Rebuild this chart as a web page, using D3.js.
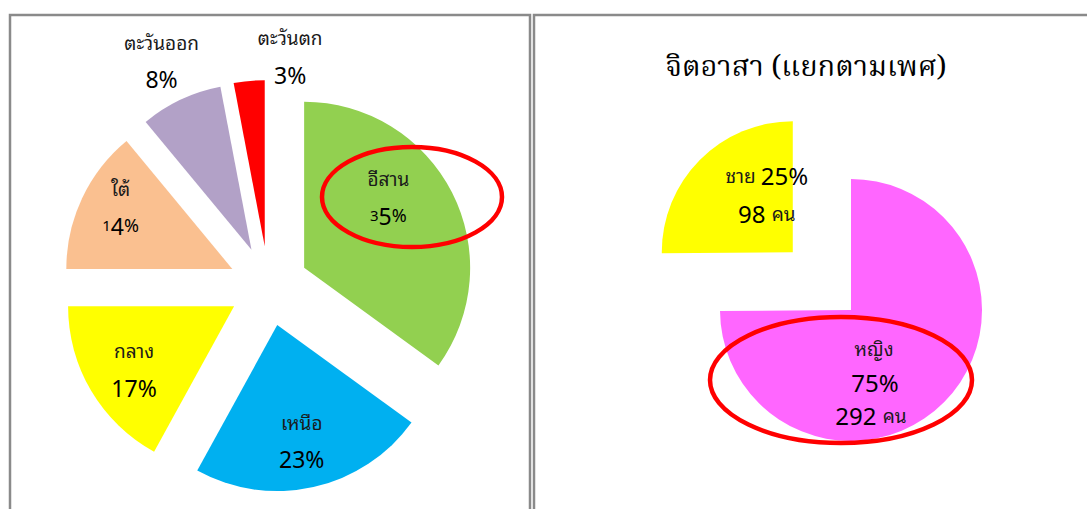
<!DOCTYPE html>
<html><head><meta charset="utf-8">
<script src="https://cdn.jsdelivr.net/npm/d3@7"></script>
<style>
html,body{margin:0;padding:0;background:#fff;}
svg{display:block;}
text{font-family:"Noto Sans Thai Looped","Noto Sans Thai","Tahoma","Lato","Noto Sans","DejaVu Sans",sans-serif;fill:#000;}
.th{fill:#1a1a1a;}
</style></head>
<body>
<svg id="chart" width="1087" height="509"></svg>
<script>
// ---- data ----
const regions = ["อีสาน", "เหนือ", "กลาง", "ใต้", "ตะวันออก", "ตะวันตก"];
const regionValues = [35, 23, 17, 14, 8, 3];
const regionColors = ["#92D050", "#00B0F0", "#FFFF00", "#FAC090", "#B2A1C7", "#FF0000"];

const genders = ["หญิง", "ชาย"];
const genderCounts = [292, 98];
const genderColors = ["#FF66FF", "#FFFF00"];

const rightTitle = "จิตอาสา (แยกตามเพศ)";
const unitLabel = "คน";

// ---- drawing ----
const svg = d3.select("#chart");
const toRad = d => d * Math.PI / 180;
const polar = (angDeg, dist) => [dist * Math.sin(toRad(angDeg)), -dist * Math.cos(toRad(angDeg))];
const NAME_SIZE = 19, NUM_SIZE = 23, DY = -3;

// panels
svg.append("rect").attr("x", 10).attr("y", 15).attr("width", 520).attr("height", 520)
  .attr("fill", "none").attr("stroke", "#8a8a8a").attr("stroke-width", 2.5);
svg.append("rect").attr("x", 534).attr("y", 15).attr("width", 600).attr("height", 520)
  .attr("fill", "none").attr("stroke", "#8a8a8a").attr("stroke-width", 2.5);

// ---------- left pie ----------
const L = { cx: 268.5, cy: 286, r: 166, explode: 40 };
const pieL = d3.pie().sort(null).startAngle(0).endAngle(2 * Math.PI)(regionValues);
const arcL = d3.arc().innerRadius(0).outerRadius(L.r);
const gL = svg.append("g").attr("transform", `translate(${L.cx},${L.cy})`);
const sumL = d3.sum(regionValues);

// label placement relative to each slice's apex (angle deg, distance px)
const labelPlaceL = [[50.6, 109], [168.2, 120], [237.2, 119], [298.4, 127], [334.4, 208], [7.7, 190]];
const mixed = new Set([0, 3]); // labels drawn with mixed digit sizes

pieL.forEach((d, i) => {
  const mid = (d.startAngle + d.endAngle) / 2 * 180 / Math.PI;
  const [ox, oy] = polar(mid, L.explode);
  const g = gL.append("g").attr("transform", `translate(${ox},${oy})`);
  g.append("path").attr("d", arcL(d)).attr("fill", regionColors[i]);

  const [lx, ly0] = polar(labelPlaceL[i][0], labelPlaceL[i][1]);
  const ly = ly0 + DY;
  g.append("text").attr("class", "th").attr("x", lx).attr("y", ly - 18).attr("text-anchor", "middle")
    .attr("dominant-baseline", "central").attr("font-size", NAME_SIZE).text(regions[i]);
  const pct = Math.round(regionValues[i] / sumL * 100) + "";
  const t = g.append("text").attr("x", lx).attr("y", ly + 18).attr("text-anchor", "middle")
    .attr("dominant-baseline", "central");
  if (mixed.has(i)) {
    t.append("tspan").attr("font-size", 15).text(pct[0]);
    t.append("tspan").attr("font-size", NUM_SIZE).text(pct.slice(1));
    t.append("tspan").attr("font-size", 18).text("%");
  } else {
    t.append("tspan").attr("font-size", NUM_SIZE).text(pct + "%");
  }
});

// ---------- right pie ----------
const R = { cx: 851, cy: 310, r: 131 };
const explodeR = [0, 82];
const pieR = d3.pie().sort(null).startAngle(0).endAngle(2 * Math.PI)(genderCounts);
const arcR = d3.arc().innerRadius(0).outerRadius(R.r);
const gR = svg.append("g").attr("transform", `translate(${R.cx},${R.cy})`);
const sumR = d3.sum(genderCounts);
const apexR = [];

pieR.forEach((d, i) => {
  const mid = (d.startAngle + d.endAngle) / 2 * 180 / Math.PI;
  const [ox, oy] = polar(mid, explodeR[i]);
  apexR.push([ox, oy]);
  const g = gR.append("g").attr("transform", `translate(${ox},${oy})`);
  g.append("path").attr("d", arcR(d)).attr("fill", genderColors[i]);
});

const pctR = genderCounts.map(v => Math.round(v / sumR * 100) + "%");
// หญิง label block
{
  const [ax, ay] = apexR[0];
  const x = ax + 23, y = ay + 74 + DY;
  const g = gR.append("g");
  g.append("text").attr("class", "th").attr("x", x).attr("y", y - 34).attr("text-anchor", "middle")
    .attr("dominant-baseline", "central").attr("font-size", NAME_SIZE).text(genders[0]);
  g.append("text").attr("x", x + 1).attr("y", y).attr("text-anchor", "middle")
    .attr("dominant-baseline", "central").attr("font-size", NUM_SIZE + 1).text(pctR[0]);
  const t = g.append("text").attr("x", x - 3).attr("y", y + 33).attr("text-anchor", "middle")
    .attr("dominant-baseline", "central");
  t.append("tspan").attr("font-size", NUM_SIZE + 1).text(genderCounts[0] + " ");
  t.append("tspan").attr("class", "th").attr("font-size", NAME_SIZE).text(unitLabel);
}
// ชาย label block
{
  const [ax, ay] = apexR[1];
  const lx = ax - 26, ly = ay - 56 + DY;
  const g = gR.append("g");
  const t1 = g.append("text").attr("x", lx).attr("y", ly - 19).attr("text-anchor", "middle")
    .attr("dominant-baseline", "central");
  t1.append("tspan").attr("class", "th").attr("font-size", NAME_SIZE).text(genders[1] + " ");
  t1.append("tspan").attr("font-size", NUM_SIZE + 1).text(pctR[1]);
  const t2 = g.append("text").attr("x", lx).attr("y", ly + 19).attr("text-anchor", "middle")
    .attr("dominant-baseline", "central");
  t2.append("tspan").attr("font-size", NUM_SIZE + 1).text(genderCounts[1] + " ");
  t2.append("tspan").attr("class", "th").attr("font-size", NAME_SIZE).text(unitLabel);
}

// title
svg.append("text").attr("x", 806).attr("y", 68).attr("text-anchor", "middle")
  .attr("dominant-baseline", "central").attr("font-size", 29)
  .style("font-family", "'Noto Serif Thai','Noto Sans Thai Looped','Noto Sans Thai','Liberation Serif',serif")
  .text(rightTitle);

// red highlight ellipses
svg.append("ellipse").attr("cx", 412).attr("cy", 197).attr("rx", 90).attr("ry", 50)
  .attr("fill", "none").attr("stroke", "#FF0000").attr("stroke-width", 4.5);
svg.append("ellipse").attr("cx", 841).attr("cy", 380).attr("rx", 131).attr("ry", 63)
  .attr("fill", "none").attr("stroke", "#FF0000").attr("stroke-width", 4.5);
</script>
</body></html>
